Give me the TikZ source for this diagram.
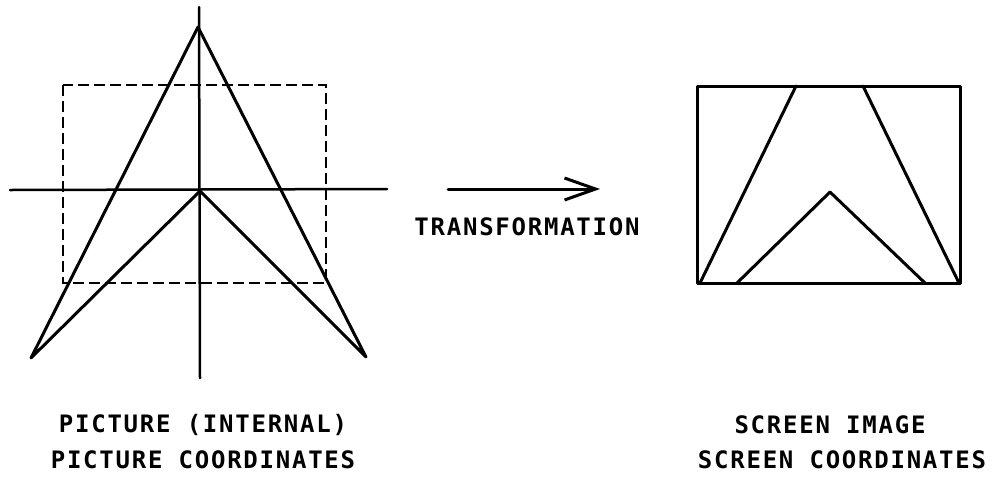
\documentclass[tikz,border=0pt]{standalone}
\usepackage{fontspec}
\newfontfamily\plotfont[LetterSpace=7.3]{DejaVu Sans Mono Bold}
\usetikzlibrary{arrows.meta}
\tikzset{
  ln/.style={line width=3pt, line cap=round, line join=round},
  ax/.style={line width=2.5pt, line cap=round},
  dsh/.style={line width=2.8pt, dash pattern=on 11pt off 5pt},
  lbl/.style={font=\plotfont\fontsize{24}{24}\selectfont, inner sep=0pt, anchor=center}
}
\begin{document}
\begin{tikzpicture}[x=1pt,y=-1pt]
\useasboundingbox (0,0) rectangle (995,480);
% left figure
\coordinate (vt) at (199,7);
\coordinate (vb) at (200,378);
\coordinate (hl) at (10,190);
\coordinate (hr) at (387,189);
\coordinate (apex) at (198,27);
\coordinate (inapex) at (200,191);
\coordinate (bl) at (31,358);
\coordinate (br) at (366,357);
\coordinate (d1) at (63,85);
\coordinate (d2) at (326,283);
\draw[ax] (vt) -- (vb);
\draw[ax] (hl) -- (hr);
\draw[dsh] (d1) rectangle (d2);
\draw[ln] (bl) -- (apex) -- (br) -- (inapex) -- cycle;
% right figure
\coordinate (r1) at (697,86);
\coordinate (r2) at (960,283);
\draw[ln] (r1) rectangle (r2);
\coordinate (la) at (796,86);
\coordinate (lb) at (700,283);
\coordinate (ra) at (863,86);
\coordinate (rb) at (959,283);
\coordinate (ia) at (737,283);
\coordinate (ib) at (830,192);
\coordinate (ic) at (925,283);
\draw[ln] (la) -- (lb);
\draw[ln] (ra) -- (rb);
\draw[ln] (ia) -- (ib) -- (ic);
% arrow
\coordinate (as) at (448,189);
\coordinate (ae) at (600,189);
\draw[ln, -{Straight Barb[length=31pt,width=22pt,line width=3pt]}] (as) -- (ae);
% labels
\node[lbl] (t) at (527,227) {TRANSFORMATION};
\node[lbl] (p1) at (203,425) {PICTURE (INTERNAL)};
\node[lbl] (p2) at (203,460) {PICTURE COORDINATES};
\node[lbl] (s1) at (830,425) {SCREEN IMAGE};
\node[lbl] (s2) at (842,460) {SCREEN COORDINATES};
\end{tikzpicture}
\end{document}
